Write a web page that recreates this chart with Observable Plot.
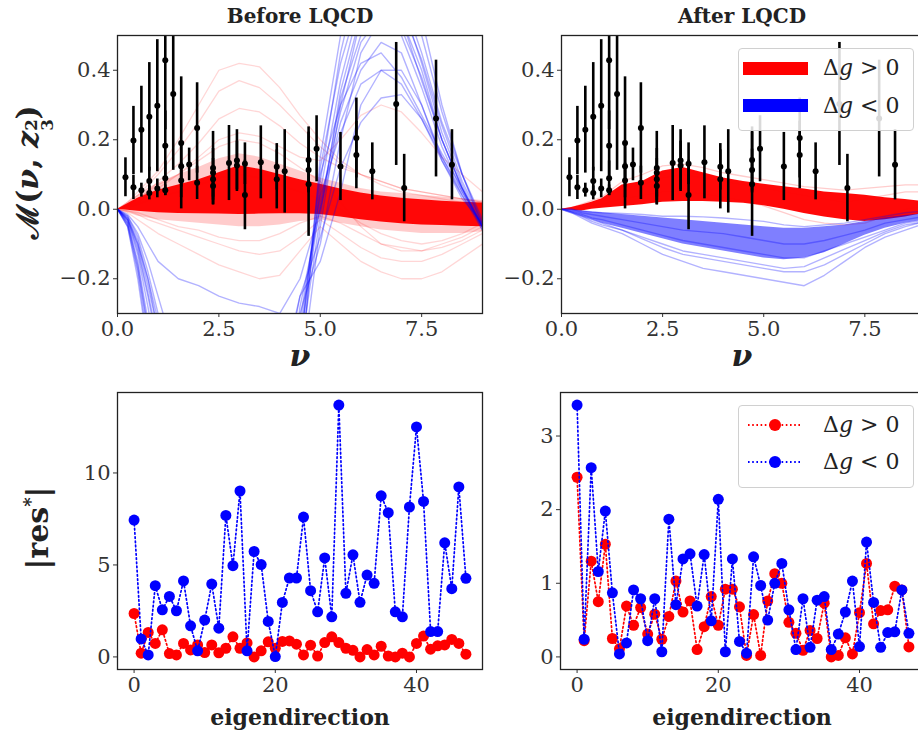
<!DOCTYPE html>
<html><head><meta charset="utf-8">
<script src="https://cdn.jsdelivr.net/npm/d3@7"></script>
<script src="https://cdn.jsdelivr.net/npm/@observablehq/plot@0.6"></script>
<style>
html,body{margin:0;padding:0;background:#fff;}
#wrap{position:relative;width:918px;height:736px;overflow:hidden;background:#fff;font-family:"DejaVu Serif",serif;color:#222;}
.abs{position:absolute;white-space:nowrap;}
.title{font-weight:bold;font-size:20px;line-height:20px;transform:translateX(-50%);}
.xlab{font-weight:bold;font-size:22px;line-height:24px;transform:translate(-50%,-50%);}
.nu{font-weight:bold;font-style:italic;font-size:30px;line-height:30px;transform:translate(-50%,-50%);}
.ylab{font-weight:bold;font-size:30px;line-height:32px;transform:translate(-50%,-50%) rotate(-90deg);}
.ss{display:inline-flex;flex-direction:column;font-size:0.55em;line-height:0.95;vertical-align:0.05em;}
.legbox{border:1px solid #d0d0d0;border-radius:4px;background:rgba(255,255,255,0.85);}
.legtxt{font-size:22px;line-height:24px;transform:translateY(-50%);}
</style></head><body><div id="wrap"></div>
<script>
// ---------- data ----------
const G = [0,0.25,0.5,0.75,1,1.5,2,2.5,3,3.5,4,4.5,5,5.5,6,6.5,7,7.5,8,8.5,9];

// Before LQCD: red ensemble
const BEF_RED_CORE_LO = [0,-0.003,-0.006,-0.008,-0.01,-0.012,-0.013,-0.014,-0.015,-0.014,-0.013,-0.013,-0.015,-0.022,-0.03,-0.037,-0.042,-0.045,-0.047,-0.049,-0.05];
const BEF_RED_CORE_HI = [0,0.016,0.032,0.044,0.055,0.07,0.085,0.105,0.125,0.115,0.1,0.085,0.072,0.058,0.047,0.038,0.032,0.027,0.023,0.02,0.018];
const BEF_RED_MID_LO = [0,-0.01,-0.02,-0.025,-0.03,-0.035,-0.04,-0.045,-0.05,-0.05,-0.045,-0.035,-0.03,-0.04,-0.05,-0.06,-0.065,-0.07,-0.07,-0.07,-0.065];
const BEF_RED_MID_HI = [0,0.02,0.04,0.06,0.075,0.1,0.12,0.145,0.16,0.15,0.13,0.11,0.09,0.075,0.06,0.05,0.045,0.04,0.035,0.03,0.025];
const BEF_RED_R1 = [0,0.02,0.05,0.08,0.11,0.2,0.3,0.4,0.42,0.41,0.35,0.27,0.2,0.14,0.1,0.07,0.05,0.04,0.03,0.02,0.01];
const BEF_RED_R2 = [0,0.015,0.04,0.07,0.1,0.17,0.25,0.34,0.37,0.35,0.3,0.24,0.18,0.13,0.1,0.08,0.06,0.05,0.04,0.03,0.02];
const BEF_RED_R3 = [0,0.01,0.03,0.05,0.08,0.13,0.19,0.26,0.29,0.28,0.24,0.19,0.15,0.12,0.1,0.08,0.06,0.05,0.04,0.03,0.02];
const BEF_RED_R4 = [0,0.01,0.02,0.04,0.06,0.1,0.15,0.2,0.22,0.21,0.18,0.15,0.14,0.2,0.27,0.3,0.28,0.22,0.15,0.1,0.05];
const BEF_RED_R5 = [0,-0.01,-0.03,-0.05,-0.07,-0.1,-0.13,-0.16,-0.18,-0.2,-0.19,-0.12,-0.05,-0.1,-0.15,-0.18,-0.2,-0.2,-0.18,-0.14,-0.1];
const BEF_RED_R6 = [0,-0.005,-0.015,-0.03,-0.04,-0.06,-0.08,-0.1,-0.12,-0.13,-0.12,-0.08,-0.03,-0.07,-0.11,-0.14,-0.15,-0.15,-0.13,-0.1,-0.07];
const BEF_RED_R7 = [0,0.01,0.03,0.05,0.07,0.1,0.14,0.18,0.2,0.19,0.16,0.12,0.08,0.02,-0.05,-0.1,-0.12,-0.12,-0.1,-0.08,-0.05];
const BEF_RED_R8 = [0,0.005,0.015,0.025,0.035,0.05,0.07,0.09,0.1,0.09,0.07,0.05,0.03,0.0,-0.04,-0.07,-0.09,-0.1,-0.09,-0.07,-0.04];
const BEF_RED_R9 = [0,-0.005,-0.01,-0.02,-0.03,-0.05,-0.06,-0.08,-0.09,-0.09,-0.07,-0.04,-0.02,-0.04,-0.07,-0.1,-0.11,-0.12,-0.11,-0.09,-0.06];

// Before LQCD: blue ensemble
const BEF_BLUE_B1 = [0,-0.03,-0.12,-0.25,-0.4,-0.7,-0.9,-1,-1,-1,-0.9,-0.5,-0.05,0.3,0.55,0.65,0.6,0.42,0.22,0.07,-0.05];
const BEF_BLUE_B2 = [0,-0.04,-0.15,-0.32,-0.5,-0.8,-1,-1,-1,-1,-0.8,-0.35,0.05,0.37,0.6,0.7,0.62,0.45,0.25,0.1,-0.03];
const BEF_BLUE_B3 = [0,-0.02,-0.08,-0.18,-0.3,-0.5,-0.6,-0.7,-0.7,-0.7,-0.6,-0.3,-0.1,0.2,0.45,0.55,0.5,0.35,0.18,0.05,-0.05];
const BEF_BLUE_B4 = [0,-0.025,-0.1,-0.2,-0.35,-0.55,-0.7,-0.8,-0.8,-0.8,-0.55,-0.25,-0.15,0.05,0.3,0.4,0.4,0.3,0.15,0.04,-0.06];
const BEF_BLUE_B5 = [0,-0.015,-0.05,-0.1,-0.15,-0.2,-0.22,-0.25,-0.27,-0.28,-0.3,-0.2,0.0,0.25,0.4,0.48,0.45,0.3,0.14,0.03,-0.04];
const BEF_BLUE_B6 = [0,-0.05,-0.2,-0.4,-0.6,-1,-1,-1,-1,-1,-1,-0.45,0.08,0.45,0.7,0.8,0.7,0.5,0.28,0.1,-0.04];
const BEF_BLUE_B7 = [0,-0.03,-0.1,-0.22,-0.35,-0.6,-0.8,-0.9,-0.9,-0.9,-0.7,-0.4,0.1,0.3,0.42,0.45,0.38,0.27,0.16,0.06,-0.05];
const BEF_BLUE_B8 = [0,-0.035,-0.13,-0.28,-0.45,-0.75,-1,-1,-1,-1,-0.75,-0.28,0.0,0.32,0.5,0.58,0.55,0.4,0.2,0.06,-0.06];
const BEF_BLUE_B9 = [0,-0.02,-0.07,-0.15,-0.25,-0.45,-0.6,-0.65,-0.65,-0.6,-0.5,-0.25,-0.08,0.12,0.25,0.32,0.33,0.26,0.15,0.05,-0.05];
const BEF_BLUE_B10 = [0,-0.045,-0.17,-0.35,-0.55,-0.9,-1,-1,-1,-1,-0.85,-0.4,0.12,0.42,0.62,0.68,0.55,0.37,0.2,0.06,-0.05];
const BEF_BLUE_B11 = [0,-0.03,-0.11,-0.24,-0.38,-0.65,-0.85,-0.95,-0.95,-0.95,-0.8,-0.38,0.02,0.28,0.48,0.56,0.52,0.38,0.2,0.06,-0.05];
const BEF_BLUE_B12 = [0,-0.04,-0.16,-0.34,-0.52,-0.85,-1,-1,-1,-1,-0.9,-0.42,-0.02,0.34,0.56,0.62,0.58,0.43,0.24,0.08,-0.04];
const BEF_BLUE_B13 = [0,-0.025,-0.09,-0.2,-0.32,-0.55,-0.7,-0.75,-0.75,-0.75,-0.65,-0.32,0.04,0.22,0.36,0.4,0.36,0.26,0.14,0.04,-0.05];
const BEF_BLUE_B14 = [0,-0.05,-0.18,-0.38,-0.58,-0.95,-1,-1,-1,-1,-0.95,-0.5,0.15,0.5,0.75,0.85,0.75,0.55,0.3,0.1,-0.05];

// After LQCD: red ensemble
const AFT_RED_CORE_LO = [0,-0.003,-0.005,0.0,0.003,0.008,0.013,0.02,0.022,0.022,0.02,0.017,0.01,0.0,-0.012,-0.022,-0.03,-0.035,-0.03,-0.022,-0.012];
const AFT_RED_CORE_HI = [0,0.005,0.012,0.02,0.03,0.07,0.08,0.11,0.12,0.105,0.09,0.08,0.072,0.065,0.058,0.05,0.045,0.04,0.033,0.028,0.022];
const AFT_RED_F1 = [0,0.005,0.015,0.025,0.035,0.08,0.1,0.125,0.13,0.12,0.105,0.095,0.085,0.075,0.065,0.06,0.055,0.06,0.065,0.07,0.07];
const AFT_RED_F2 = [0,0,0.005,0.01,0.015,0.03,0.04,0.05,0.05,0.045,0.035,0.025,0.01,-0.01,-0.03,-0.04,-0.045,-0.04,-0.02,0.0,0.01];
const AFT_RED_F3 = [0,0.003,0.01,0.02,0.03,0.06,0.07,0.09,0.1,0.09,0.08,0.07,0.06,0.05,0.04,0.03,0.02,0.03,0.04,0.05,0.05];

// After LQCD: blue ensemble
const AFT_BLUE_CORE_LO = [0,-0.01,-0.02,-0.03,-0.04,-0.055,-0.07,-0.085,-0.1,-0.11,-0.12,-0.13,-0.14,-0.145,-0.14,-0.125,-0.1,-0.075,-0.055,-0.04,-0.03];
const AFT_BLUE_CORE_HI = [0,-0.003,-0.005,-0.008,-0.01,-0.015,-0.02,-0.025,-0.03,-0.035,-0.04,-0.045,-0.05,-0.055,-0.055,-0.05,-0.045,-0.035,-0.025,-0.018,-0.012];
const AFT_BLUE_A1 = [0,-0.01,-0.025,-0.04,-0.05,-0.07,-0.1,-0.13,-0.15,-0.17,-0.18,-0.19,-0.2,-0.21,-0.22,-0.19,-0.15,-0.11,-0.08,-0.06,-0.04];
const AFT_BLUE_A2 = [0,-0.01,-0.02,-0.035,-0.045,-0.06,-0.085,-0.11,-0.13,-0.14,-0.15,-0.16,-0.17,-0.18,-0.18,-0.16,-0.13,-0.1,-0.07,-0.05,-0.035];
const AFT_BLUE_A3 = [0,0,-0.005,-0.008,-0.01,-0.012,-0.015,-0.02,-0.02,-0.022,-0.025,-0.03,-0.035,-0.045,-0.05,-0.045,-0.04,-0.03,-0.02,-0.01,-0.005];
const AFT_BLUE_A4 = [0,-0.005,-0.015,-0.025,-0.03,-0.045,-0.06,-0.075,-0.09,-0.1,-0.11,-0.12,-0.13,-0.14,-0.14,-0.12,-0.1,-0.08,-0.06,-0.04,-0.03];
const AFT_BLUE_A5 = [0,0,-0.01,-0.015,-0.02,-0.03,-0.04,-0.05,-0.06,-0.065,-0.07,-0.08,-0.09,-0.1,-0.1,-0.09,-0.075,-0.06,-0.04,-0.03,-0.02];
const AFT_BLUE_A6 = [0,-0.008,-0.02,-0.03,-0.04,-0.06,-0.08,-0.1,-0.12,-0.13,-0.14,-0.15,-0.16,-0.17,-0.165,-0.14,-0.115,-0.09,-0.065,-0.045,-0.035];

// Lattice data points (nu, M, error)
const DATA_NU = [0.196,0.393,0.393,0.589,0.589,0.785,0.785,0.785,0.982,0.982,1.178,1.178,1.178,1.178,1.374,1.571,1.571,1.571,1.767,1.963,1.963,2.356,2.356,2.356,2.356,2.749,2.945,2.945,3.142,3.142,3.534,3.927,3.927,4.123,4.712,4.712,4.712,4.909,5.498,5.890,5.890,6.283,6.872,7.069,7.854,8.247];
const DATA_M = [0.092,0.198,0.063,0.229,0.055,0.266,0.081,0.047,0.298,0.06,0.429,0.183,0.089,0.055,0.332,0.191,0.124,0.083,0.129,0.234,0.076,0.119,0.105,0.086,0.067,0.133,0.14,0.126,0.131,0.041,0.135,0.122,0.086,0.109,0.142,0.113,0.072,0.174,0.123,0.205,0.156,0.109,0.303,0.061,0.261,0.128];
const DATA_ERR = [0.056,0.098,0.035,0.125,0.02,0.156,0.04,0.02,0.19,0.027,0.2,0.1,0.05,0.015,0.22,0.19,0.06,0.05,0.047,0.13,0.048,0.105,0.07,0.06,0.055,0.108,0.089,0.07,0.06,0.1,0.105,0.067,0.085,0.12,0.095,0.06,0.15,0.095,0.098,0.115,0.097,0.082,0.177,0.097,0.168,0.101];

// Residuals per eigendirection
const EIG = [0,1,2,3,4,5,6,7,8,9,10,11,12,13,14,15,16,17,18,19,20,21,22,23,24,25,26,27,28,29,30,31,32,33,34,35,36,37,38,39,40,41,42,43,44,45,46,47];
const RES_BEFORE_POS = [2.36,0.2,1.33,0.73,1.47,0.18,0.11,0.73,0.38,0.65,0.24,0.65,0.22,0.47,1.09,0.47,0.76,0.0,0.33,0.82,0.47,0.84,0.87,0.69,0.11,0.64,0.05,0.78,1.09,0.78,0.47,0.36,0.0,0.4,0.11,0.58,0.05,0.0,0.2,0.0,0.73,1.13,0.42,0.6,0.65,0.95,0.73,0.15];
const RES_BEFORE_NEG = [7.44,0.98,0.11,3.87,2.56,3.29,2.51,4.13,1.69,0.33,2.0,3.96,1.56,7.69,4.96,9.02,0.33,5.73,5.02,1.93,0.02,2.96,4.29,4.29,7.6,3.6,2.45,5.38,2.18,13.69,3.46,5.55,2.97,4.45,4.0,8.76,7.84,2.45,2.18,8.15,12.5,8.45,1.38,1.38,6.2,3.71,9.24,4.27];
const RES_AFTER_POS = [2.44,0.22,1.3,0.75,1.53,0.25,0.11,0.69,0.43,0.67,0.31,0.58,0.24,0.55,1.03,0.61,0.76,0.1,0.41,0.82,0.43,0.92,0.92,0.68,0.02,0.575,0.02,0.76,1.13,1.0,0.47,0.32,0.09,0.36,0.25,0.73,0.0,0.02,0.26,0.04,0.6,1.27,0.45,0.63,0.64,0.96,0.91,0.135];
const RES_AFTER_NEG = [3.42,0.24,2.57,1.16,1.98,0.87,0.04,0.19,0.91,0.79,0.22,0.79,0.07,1.87,0.71,1.33,1.4,0.69,1.39,0.49,2.14,0.07,1.33,0.21,0.05,1.36,0.97,0.5,1.0,1.27,0.64,0.1,0.79,0.13,0.77,0.82,0.1,0.31,0.61,1.03,0.14,1.56,0.74,0.13,0.33,0.34,0.91,0.32];

// Tick labels
const TOP_X_TICKS = [0,2.5,5,7.5];
const TOP_Y_TICKS = [-0.2,0,0.2,0.4];
const BOT_X_TICKS = [0,20,40];
const BOT_LEFT_Y_TICKS = [0,5,10];
const BOT_RIGHT_Y_TICKS = [0,1,2,3];

const RED = "#ff0000", BLUE = "#0000ff";

// ---------- helpers ----------
const wrap = document.getElementById("wrap");
const STYLE = {fontFamily: "DejaVu Serif", fontSize: "21px", color: "#333", background: "transparent", overflow: "visible", maxWidth: "none"};

function place(svg, left, top) {
  svg.style.position = "absolute";
  svg.style.left = left + "px";
  svg.style.top = top + "px";
  wrap.appendChild(svg);
}
function band(lo, hi, color, op) {
  return Plot.areaY(G, {x: G, y1: lo, y2: hi, fill: color, fillOpacity: op, curve: "linear", clip: true});
}
function curve(vals, color, op, w) {
  return Plot.line(G, {x: G, y: vals, stroke: color, strokeOpacity: op, strokeWidth: w || 1.3, clip: true});
}
const points = DATA_NU.map((nu, i) => ({nu, m: DATA_M[i], e: DATA_ERR[i]}));
function dataMarks() {
  return [
    Plot.ruleX(points, {x: "nu", y1: d => d.m - d.e, y2: d => d.m + d.e, stroke: "#000", strokeWidth: 2.6, clip: true}),
    Plot.dot(points, {x: "nu", y: "m", r: 3, fill: "#000", clip: true})
  ];
}
function topPanel(marks, width, mLeft, mRight) {
  return Plot.plot({
    width, height: 350, marginLeft: mLeft, marginRight: mRight, marginTop: 35, marginBottom: 37,
    style: STYLE,
    x: {domain: [0, 9], ticks: TOP_X_TICKS, tickFormat: d3.format(".1f"), tickSize: 4, tickPadding: 4, label: null},
    y: {domain: [-0.3, 0.5], ticks: TOP_Y_TICKS, tickFormat: d3.format(".1f"), tickSize: 4, tickPadding: 3, label: null},
    marks: [...marks, ...dataMarks(), Plot.frame({stroke: "#222", strokeWidth: 1.3})]
  });
}
function botPanel(pos, neg, ymax, yticks, width, mLeft, mRight) {
  const pad = ymax * 0.05;
  const rows = EIG.map((e, i) => ({e, p: pos[i], n: neg[i]}));
  return Plot.plot({
    width, height: 340, marginLeft: mLeft, marginRight: mRight, marginTop: 32, marginBottom: 31,
    style: STYLE,
    x: {domain: [-2.35, 49.35], ticks: BOT_X_TICKS, tickFormat: d3.format("d"), tickSize: 4, tickPadding: 4, label: null},
    y: {domain: [-pad, ymax + pad], ticks: yticks, tickFormat: d3.format("d"), tickSize: 4, tickPadding: 3, label: null},
    marks: [
      Plot.line(rows, {x: "e", y: "p", stroke: RED, strokeWidth: 1.7, strokeDasharray: "1.6,2.6"}),
      Plot.dot(rows, {x: "e", y: "p", r: 5.5, fill: RED}),
      Plot.line(rows, {x: "e", y: "n", stroke: BLUE, strokeWidth: 1.7, strokeDasharray: "1.6,2.6"}),
      Plot.dot(rows, {x: "e", y: "n", r: 5.5, fill: BLUE}),
      Plot.frame({stroke: "#222", strokeWidth: 1.3})
    ]
  });
}

// ---------- panels ----------
const befMarks = [
  ...[BEF_RED_R1,BEF_RED_R2,BEF_RED_R3,BEF_RED_R4,BEF_RED_R5,BEF_RED_R6,BEF_RED_R7,BEF_RED_R8,BEF_RED_R9].map(c => curve(c, RED, 0.16)),
  band(BEF_RED_MID_LO, BEF_RED_MID_HI, RED, 0.2),
  band(BEF_RED_CORE_LO, BEF_RED_CORE_HI, RED, 0.97),
  ...[BEF_BLUE_B1,BEF_BLUE_B2,BEF_BLUE_B3,BEF_BLUE_B4,BEF_BLUE_B5,BEF_BLUE_B6,BEF_BLUE_B7,BEF_BLUE_B8,BEF_BLUE_B9,BEF_BLUE_B10,BEF_BLUE_B11,BEF_BLUE_B12,BEF_BLUE_B13,BEF_BLUE_B14].map(c => curve(c, BLUE, 0.3, 1.4))
];
const aftMarks = [
  ...[AFT_RED_F1,AFT_RED_F2,AFT_RED_F3].map(c => curve(c, RED, 0.2)),
  band(AFT_RED_CORE_LO, AFT_RED_CORE_HI, RED, 0.97),
  band(AFT_BLUE_CORE_LO, AFT_BLUE_CORE_HI, BLUE, 0.5),
  ...[AFT_BLUE_A1,AFT_BLUE_A2,AFT_BLUE_A3,AFT_BLUE_A4,AFT_BLUE_A5,AFT_BLUE_A6].map(c => curve(c, BLUE, 0.3, 1.4))
];

place(topPanel(befMarks, 490, 117, 8), 0, 0);
place(topPanel(aftMarks, 450, 71, 15), 490, 0);
place(botPanel(RES_BEFORE_POS, RES_BEFORE_NEG, 13.69, BOT_LEFT_Y_TICKS, 490, 117, 8), 0, 360);
place(botPanel(RES_AFTER_POS, RES_AFTER_NEG, 3.42, BOT_RIGHT_Y_TICKS, 450, 70, 15), 490, 360);

// ---------- text & legends ----------
const html = `
<div class="abs title" style="left:300px;top:6px">Before LQCD</div>
<div class="abs title" style="left:742px;top:6px">After LQCD</div>
<div class="abs nu" style="left:300px;top:356px">ν</div>
<div class="abs nu" style="left:742px;top:356px">ν</div>
<div class="abs xlab" style="left:300px;top:717px">eigendirection</div>
<div class="abs xlab" style="left:742px;top:717px">eigendirection</div>
<div class="abs ylab" style="left:34px;top:172px">ℳ(<i>ν</i>, <i>z</i><span class="ss"><span>2</span><span>3</span></span>)</div>
<div class="abs ylab" style="left:34px;top:528px">|res<sup style="font-size:0.6em">*</sup>|</div>
<div class="abs legbox" style="left:738px;top:48px;width:174px;height:81px"></div>
<div class="abs" style="left:743px;top:62px;width:65px;height:13px;background:${RED}"></div>
<div class="abs" style="left:743px;top:99px;width:65px;height:13px;background:${BLUE}"></div>
<div class="abs legtxt" style="left:823px;top:68px">Δ<i>g</i> &gt; 0</div>
<div class="abs legtxt" style="left:823px;top:106px">Δ<i>g</i> &lt; 0</div>
<div class="abs legbox" style="left:738px;top:405px;width:174px;height:81px"></div>
<svg class="abs" style="left:738px;top:405px" width="80" height="81">
  <line x1="10" y1="20" x2="64" y2="20" stroke="${RED}" stroke-width="1.8" stroke-dasharray="1.6,2.6"/>
  <circle cx="37" cy="20" r="6" fill="${RED}"/>
  <line x1="10" y1="57" x2="64" y2="57" stroke="${BLUE}" stroke-width="1.8" stroke-dasharray="1.6,2.6"/>
  <circle cx="37" cy="57" r="6" fill="${BLUE}"/>
</svg>
<div class="abs legtxt" style="left:823px;top:425px">Δ<i>g</i> &gt; 0</div>
<div class="abs legtxt" style="left:823px;top:462px">Δ<i>g</i> &lt; 0</div>
`;
wrap.insertAdjacentHTML("beforeend", html);
</script>
</body></html>
